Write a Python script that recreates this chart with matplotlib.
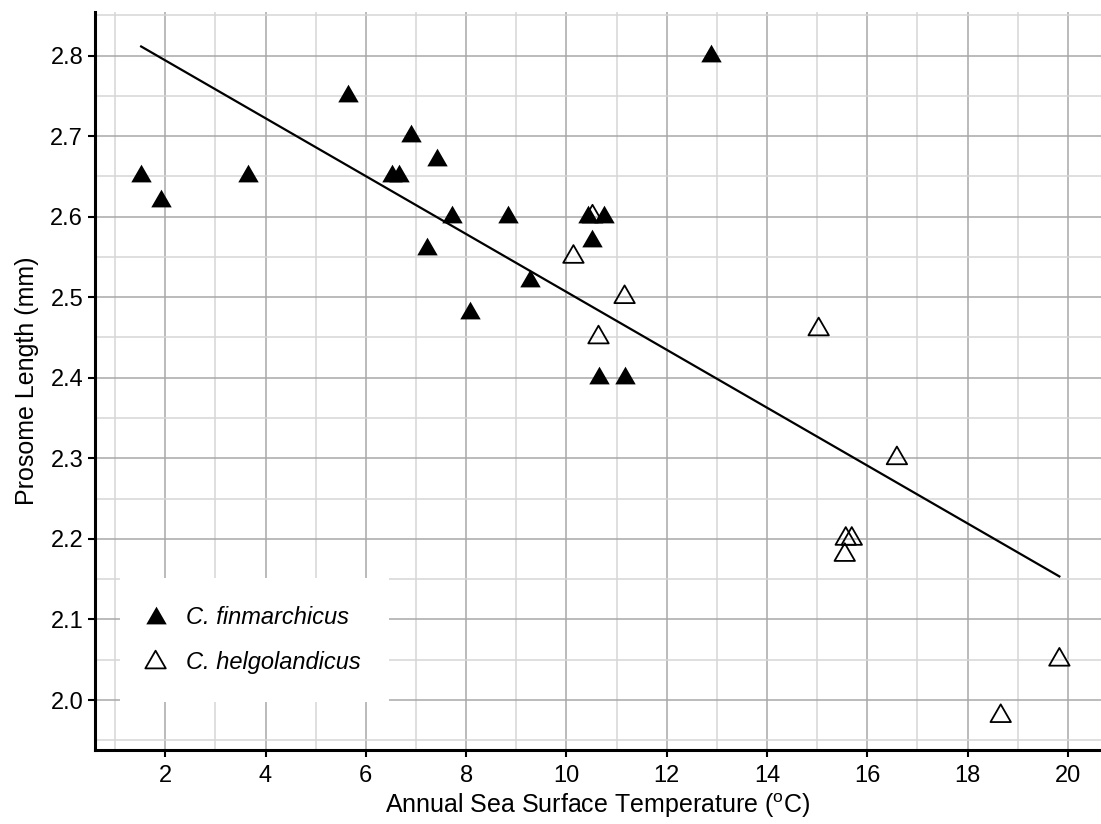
import numpy as np
import matplotlib
matplotlib.use("Agg")
from matplotlib import pyplot as plt
from matplotlib.path import Path
from matplotlib.ticker import MultipleLocator

plt.rcParams['font.family'] = ['Liberation Sans', 'DejaVu Sans']
plt.rcParams['mathtext.fontset'] = 'custom'
plt.rcParams['mathtext.rm'] = 'Liberation Sans'

# C. finmarchicus (filled)
fin_temp = [1.52, 1.92, 3.65, 5.65, 6.53, 6.67, 6.91, 7.41, 7.72, 7.23,
            8.84, 9.28, 8.08, 10.43, 10.75, 10.51, 10.64, 11.16, 12.89]
fin_len = [2.65, 2.62, 2.65, 2.75, 2.65, 2.65, 2.70, 2.67, 2.60, 2.56,
           2.60, 2.52, 2.48, 2.60, 2.60, 2.57, 2.40, 2.40, 2.80]

# C. helgolandicus (open)
hel_temp = [10.14, 10.52, 10.64, 11.16, 15.03, 16.59, 15.57, 15.69, 15.55, 18.66, 19.83]
hel_len = [2.55, 2.60, 2.45, 2.50, 2.46, 2.30, 2.20, 2.20, 2.18, 1.98, 2.05]

# equilateral triangle, centred on the circumcentre like R's pch triangles
tri = Path([(-1, -0.577), (1, -0.577), (0, 1.155), (-1, -0.577)], closed=True)

fig = plt.figure(figsize=(11.01, 8.24), dpi=100)
ax = fig.add_axes([95 / 1101, 1 - 750 / 824, 1006 / 1101, 738 / 824])

ax.xaxis.set_major_locator(MultipleLocator(2))
ax.xaxis.set_minor_locator(MultipleLocator(1))
ax.yaxis.set_major_locator(MultipleLocator(0.1))
ax.yaxis.set_minor_locator(MultipleLocator(0.05))
ax.grid(which='major', color='#a8a8a8', lw=1.1, zorder=0)
ax.grid(which='minor', color='#d6d6d6', lw=1.1, zorder=0)
ax.set_axisbelow(True)

ax.scatter(fin_temp, fin_len, marker=tri, s=17 ** 2, c='black', lw=0,
           label='C. finmarchicus', zorder=3)
ax.scatter(hel_temp, hel_len, marker=tri, s=17 ** 2, facecolors='none',
           edgecolors='black', lw=1.3, label='C. helgolandicus', zorder=3)

# linear fit on all points
all_t = np.array(fin_temp + hel_temp)
all_l = np.array(fin_len + hel_len)
k, b = np.polyfit(all_t, all_l, 1)
xs = np.array([all_t.min(), all_t.max()])
ax.plot(xs, k * xs + b, color='black', lw=1.6, zorder=4)

ax.set_xlim(0.6, 20.66)
ax.set_ylim(1.938, 2.854)

for s in ['top', 'right']:
    ax.spines[s].set_visible(False)
for s in ['left', 'bottom']:
    ax.spines[s].set_linewidth(2.2)
ax.tick_params(which='major', length=5, width=1.5, labelsize=17, colors='black')
ax.tick_params(axis='x', which='major', pad=6)
ax.tick_params(which='minor', length=0)

ax.set_xlabel(r'Annual Sea Surface Temperature ($^{\mathrm{o}}$C)', fontsize=18, labelpad=3)
ax.set_ylabel('Prosome Length (mm)', fontsize=18, labelpad=8)

leg = ax.legend(loc='lower left', bbox_to_anchor=(0.025, 0.065), borderaxespad=0,
                frameon=True, fancybox=False, framealpha=1, edgecolor='white',
                facecolor='white', prop={'style': 'italic', 'size': 17},
                handlelength=0.6, handletextpad=1.0, borderpad=1.2,
                labelspacing=0.9, markerscale=1.0)
leg.get_frame().set_linewidth(0)

fig.savefig("out.png", dpi=100)
